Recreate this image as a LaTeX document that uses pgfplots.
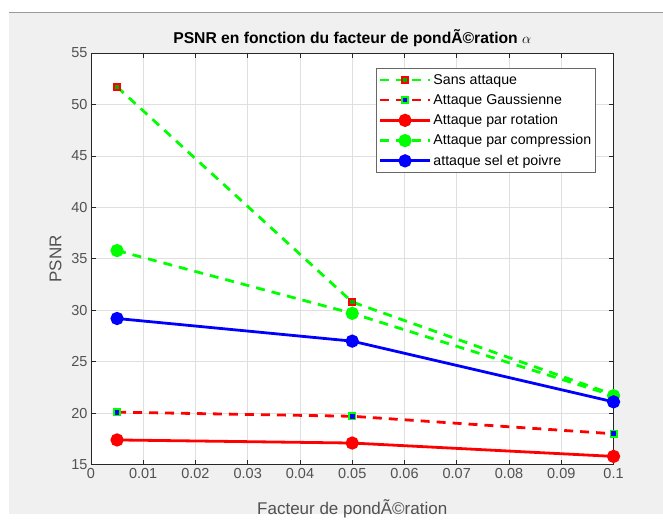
\documentclass[border=0pt]{standalone}
\usepackage{pgfplots}
\pgfplotsset{compat=1.18}
\usepackage{fontspec}
\setmainfont{Liberation Sans}
\definecolor{figbg}{RGB}{240,240,240}
\definecolor{axgray}{RGB}{38,38,38}
\begin{document}
\begin{tikzpicture}[x=1bp,y=1bp]
\fill[white] (0,0) rectangle (663,514);
\fill[figbg] (9,0) rectangle (663,501);
\draw[gray!80,line width=1bp] (9,501) -- (663,501);
\begin{axis}[
  at={(91bp,49bp)}, anchor=south west,
  scale only axis, width=523bp, height=412bp,
  xmin=0, xmax=0.1, ymin=15, ymax=55,
  xtick={0,0.01,...,0.1},
  ytick={15,20,...,55},
  xticklabels={0,0.01,0.02,0.03,0.04,0.05,0.06,0.07,0.08,0.09,0.1},
  /pgf/number format/assume math mode=true,
  tick label style={font=\fontsize{14.5bp}{16bp}\selectfont, text=axgray!80},
  tick align=inside, major tick length=5bp,
  tick style={axgray, line width=0.6bp},
  axis line style={axgray, line width=0.8bp},
  axis background/.style={fill=white},
  grid=major, grid style={gray!25, line width=0.6bp},
  title={\textbf{PSNR en fonction du facteur de pondÃ©ration} $\alpha$},
  title style={font=\fontsize{15.7bp}{17bp}\selectfont, yshift=-3bp},
  xlabel={Facteur de pondÃ©ration},
  ylabel={PSNR},
  label style={font=\fontsize{17bp}{19bp}\selectfont, text=axgray!80},
  xlabel style={yshift=-14bp},
  ylabel style={yshift=3bp},
  legend style={at={(0.9656,0.9636)}, anchor=north east,
    font=\fontsize{14.2bp}{16bp}\selectfont, draw=axgray!70, line width=0.8bp,
    row sep=4.5bp, inner xsep=2bp, inner ysep=4bp, cells={anchor=west}},
  legend image code/.code={
    \draw[mark repeat=2, mark phase=2, #1] plot coordinates {(0bp,0bp) (25bp,0bp) (50bp,0bp)};
  },
  dashsty/.style={dash pattern=on 9bp off 7bp},
]
\addplot[green, line width=2.8bp, dashsty, mark=square*, mark size=3.2bp,
  mark options={solid, draw=red, fill=green!70!black, line width=1.6bp}]
  coordinates {(0.005,51.7) (0.05,30.8) (0.1,21.8)};
\addlegendentry{Sans attaque}
\addplot[red, line width=2.8bp, dashsty, mark=square*, mark size=3.2bp,
  mark options={solid, draw=green, fill=blue, line width=1.6bp}]
  coordinates {(0.005,20.1) (0.05,19.7) (0.1,18.0)};
\addlegendentry{Attaque Gaussienne}
\addplot[red, line width=2.8bp, mark=*, mark size=5.2bp,
  mark options={solid, fill=red}]
  coordinates {(0.005,17.4) (0.05,17.1) (0.1,15.8)};
\addlegendentry{Attaque par rotation}
\addplot[green, line width=2.8bp, dashsty, mark=*, mark size=5.2bp,
  mark options={solid, fill=green}]
  coordinates {(0.005,35.8) (0.05,29.7) (0.1,21.7)};
\addlegendentry{Attaque par compression}
\addplot[blue, line width=2.8bp, mark=*, mark size=5.2bp,
  mark options={solid, fill=blue}]
  coordinates {(0.005,29.2) (0.05,27.0) (0.1,21.1)};
\addlegendentry{attaque sel et poivre}
\end{axis}
\end{tikzpicture}
\end{document}
